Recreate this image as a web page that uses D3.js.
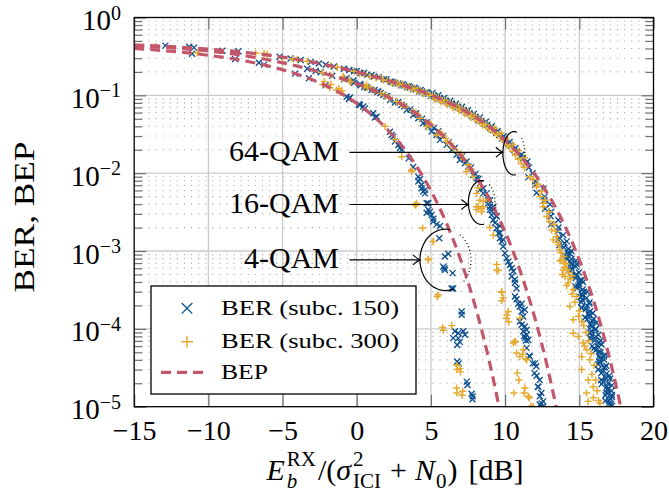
<!DOCTYPE html>
<html>
<head>
<meta charset="utf-8" />
<title>BER vs SINR</title>
<script src="https://d3js.org/d3.v7.min.js"></script>
<style>
  body { margin: 0; background: #fff; }
  svg { display: block; font-family: "Liberation Serif", serif; }
</style>
</head>
<body>
<svg id="chart" width="669" height="497"></svg>
<script>
// ---- data ----
const xTicks = [-15, -10, -5, 0, 5, 10, 15, 20];
const yMajor = [1, 1e-1, 1e-2, 1e-3, 1e-4, 1e-5];

// BEP curves: [dB] and bit error probability
const bepDb4 = [-15,-12,-10,-8,-6,-4,-2,0,1,2,3,4,5,6,6.5,7,7.5,8,8.5,9,9.3,9.6,10];
const bep4 = [0.401,0.361,0.327,0.287,0.239,0.186,0.131,0.0786,0.0563,0.0375,0.0229,0.0125,5.95e-3,2.39e-3,1.40e-3,7.73e-4,3.98e-4,1.91e-4,8.4e-5,3.36e-5,1.85e-5,9.7e-6,3.9e-6];
const bepDb16 = [-15,-12,-10,-8,-6,-4,-2,-1,0,1,2,3,4,5,6,7,8,8.5,9,9.5,10,10.5,11,11.5,12,12.5,13,13.5,14];
const bep16 = [0.433,0.401,0.371,0.333,0.287,0.237,0.187,0.164,0.141,0.119,0.0978,0.0774,0.0587,0.0419,0.0279,0.0170,9.25e-3,6.5e-3,4.39e-3,2.84e-3,1.76e-3,1.03e-3,5.64e-4,2.9e-4,1.39e-4,6.1e-5,2.42e-5,8.7e-6,2.8e-6];
const bepDb64 = [-15,-10,-8,-6,-4,-2,-1,0,1,2,3,4,5,6,7,8,9,10,10.5,11,11.5,12,12.5,13,13.5,14,14.5,15,15.5,16,16.5,17,17.25,17.5,17.75,18];
const bep64 = [0.444,0.393,0.364,0.329,0.289,0.245,0.222,0.200,0.178,0.157,0.137,0.1185,0.101,0.0838,0.0676,0.0523,0.0385,0.0265,0.0214,0.0169,0.0130,9.72e-3,7.06e-3,4.95e-3,3.34e-3,2.15e-3,1.33e-3,7.7e-4,4.24e-4,2.18e-4,1.03e-4,4.5e-5,2.86e-5,1.79e-5,1.08e-5,6.4e-6];

// measured BER, subcarrier 150: [dB, BER]
const qam4Sub150 = [[-11.1,0.343],[-8.2,0.292],[-6.6,0.262],[-6.25,0.248],[-4.16,0.19],[-3.22,0.166],[-2.1,0.135],[-0.68,0.096],[-0.46,0.094],[-0.53,0.09],[0.15,0.077],[0.22,0.075],[0.44,0.072],[0.55,0.068],[1.11,0.059],[1.23,0.052],[1.34,0.053],[2.24,0.034],[2.35,0.031],[2.46,0.0295],[2.57,0.0255],[2.8,0.023],[2.91,0.021],[3.03,0.020],[3.5,0.0155],[3.8,0.012],[4.15,0.009],[4.26,0.0084],[4.15,0.0078],[4.37,0.0071],[4.37,0.0064],[4.48,0.0058],[4.6,0.0061],[4.6,0.0055],[4.71,0.0041],[4.82,0.0041],[4.93,0.0032],[4.71,0.0031],[4.82,0.0034],[5.04,0.0029],[5.16,0.0026],[5.16,0.0024],[5.38,0.0022],[5.61,0.0021],[5.56,0.00146],[6.17,9.2e-4],[5.94,8.5e-4],[5.9,6.0e-4],[5.94,5.7e-4],[6.46,5.2e-4],[5.83,6.3e-4],[6.5,3.3e-4],[6.39,3.3e-4],[7.07,1.67e-4],[7.07,1.52e-4],[6.62,9.3e-5],[6.84,8.8e-5],[7.18,9.3e-5],[7.29,8.4e-5],[6.5,7.6e-5],[6.84,7.6e-5],[6.77,6.2e-5],[6.95,6.8e-5],[6.87,3.6e-5],[6.77,3.8e-5],[7.41,2.1e-5],[7.46,1.9e-5],[7.74,1.47e-5],[7.81,1.36e-5],[7.8,1.25e-5]];
const qam16Sub150 = [[-3.34,0.22],[-2.77,0.206],[-2.43,0.198],[-1.65,0.179],[-0.86,0.161],[-0.19,0.145],[0.26,0.135],[0.71,0.125],[1.38,0.111],[2.06,0.097],[-0.68,0.166],[-0.23,0.155],[0.22,0.14],[0.66,0.129],[1.0,0.117],[1.45,0.112],[1.79,0.101],[2.24,0.0873],[2.57,0.0807],[3.02,0.0753],[3.36,0.065],[3.81,0.056],[4.15,0.0508],[4.48,0.0438],[4.82,0.0397],[5.04,0.0342],[5.38,0.031],[5.61,0.0268],[6.06,0.0231],[6.39,0.0199],[6.73,0.0172],[6.95,0.0148],[7.29,0.0134],[7.52,0.0122],[7.85,0.0095],[8.08,0.0086],[8.3,0.0074],[8.53,0.0064],[8.75,0.0055],[8.98,0.0045],[9.2,0.0037],[9.42,0.0028],
  [0.5,0.128],[1.2,0.117],[1.6,0.107],[2.0,0.098],[2.8,0.082],[3.2,0.072],[3.6,0.066],[4.0,0.059],[4.4,0.050],[4.7,0.045],[5.2,0.038],[5.5,0.0345],[5.8,0.030],[6.2,0.025],[6.6,0.021],[7.1,0.0166],[7.4,0.0141],[7.7,0.0118],[8.0,0.0098],[8.2,0.0085],
  [8.3,0.0061],[8.53,0.0055],[8.86,0.0045],[8.98,0.0037],[9.2,0.0034],[9.43,0.0028],[9.65,0.0021],[9.65,0.0017],[9.87,0.0014],[8.86,0.0041],[8.98,0.0034],[9.09,0.0029],[9.2,0.0025],[9.31,0.0023],[9.42,0.00196],[9.54,0.00169],[9.65,0.00146],[9.76,0.00132],[9.87,0.00114],[9.99,9.4e-4],[10.1,8.1e-4],[10.21,7.3e-4],[10.32,6.6e-4],[10.44,6.0e-4],[10.55,5.5e-4],[10.44,4.7e-4],[10.66,4.3e-4],[10.66,3.9e-4],[10.77,3.3e-4],[10.66,2.6e-4],[10.77,2.4e-4],[10.88,2.1e-4],[10.99,1.94e-4],[11.11,1.67e-4],[11.22,1.44e-4],[10.99,1.24e-4],[11.11,1.13e-4],[11.33,1.07e-4],[11.22,9.3e-5],[11.45,8.4e-5],[11.33,7.6e-5],[11.56,7.2e-5],[11.45,5.7e-5],[11.11,2.1e-4],[11.33,1.76e-4],[11.45,9.7e-5],[11.28,8.1e-5],[11.4,7.1e-5],[11.63,4.5e-5],[11.67,4.4e-5],[11.86,3.6e-5],[12.01,3.6e-5],[12.1,3.3e-5],[11.98,2.7e-5],[12.12,2.5e-5],[12.33,2.2e-5],[12.21,1.8e-5],[12.23,1.8e-5],[12.44,1.5e-5],[12.34,1.36e-5],[12.56,1.17e-5],[12.46,1.1e-5],[12.33,1.07e-5],[12.56,1.0e-5]];
const qam64Sub150 = [[-12.9,0.435],[-11.3,0.42],[-10.97,0.41],[-9.06,0.375],[-7.98,0.368],[-5.2,0.313],[-4.46,0.298],[-3.78,0.284],[-3.1,0.269],[-2.55,0.257],[-2.1,0.247],[-1.54,0.235],[-0.86,0.219],[-0.5,0.211],[-0.19,0.204],[0.26,0.194],[0.71,0.184],[1.16,0.175],[1.83,0.161],[2.28,0.151],
  [0.0,0.206],[0.5,0.195],[1.0,0.183],[1.5,0.172],[2.0,0.161],[3.1,0.139],[3.5,0.131],[3.9,0.125],[4.3,0.117],[4.7,0.110],
  [2.4,0.149],[2.6,0.143],[2.8,0.142],[3.0,0.135],[3.2,0.134],[3.4,0.128],[3.6,0.126],[3.8,0.121],[4.0,0.120],[4.2,0.114],[4.4,0.112],[4.6,0.106],[4.8,0.105],[5.0,0.099],[5.2,0.098],[5.4,0.092],[5.6,0.091],[5.8,0.086],[6.0,0.085],[6.2,0.079],[6.4,0.078],[6.6,0.073],[6.8,0.071],[7.0,0.067],[7.2,0.065],[7.4,0.060],[7.6,0.059],[7.8,0.054],[8.0,0.053],[8.2,0.048],[8.4,0.047],[8.6,0.043],[8.8,0.042],[9.0,0.038],[9.2,0.036],[9.4,0.033],[9.6,0.031],[9.8,0.028],[10.0,0.027],[10.2,0.024],[10.4,0.0226],[10.6,0.020],[10.8,0.0188],[11.0,0.0165],[11.2,0.0155],[11.4,0.0134],[11.6,0.0118],
  [5.1,0.107],[5.5,0.100],[5.9,0.0925],[6.3,0.085],[6.7,0.078],[7.1,0.0714],[7.5,0.0645],[7.9,0.0582],[8.3,0.0518],[8.7,0.0458],[9.1,0.0402],[9.5,0.0346],[9.9,0.0298],[10.3,0.0252],[10.7,0.0211],[11.1,0.0174],[11.5,0.0141],
  [11.85,0.0100],[11.57,0.0089],[12.03,0.0079],[12.03,0.0071],[12.58,0.0063],[12.12,0.0056],[12.66,0.0050],[12.64,0.0045],[13.02,0.0040],[12.69,0.0035],[13.11,0.0032],[13.07,0.0028],[13.58,0.0025],[13.09,0.0022],[13.6,0.0020],[13.55,0.0018],[13.92,0.0016],[13.59,0.0014],[14.0,0.00126],[13.96,0.00112],[14.46,0.0010],[13.97,8.9e-4],[14.47,7.9e-4],[14.42,7.1e-4],[14.77,6.3e-4],[14.42,5.6e-4],[14.81,5.0e-4],[14.76,4.5e-4],[15.25,4.0e-4],[14.74,3.5e-4],[15.22,3.2e-4],[15.16,2.8e-4],[15.49,2.5e-4],[15.13,2.2e-4],[15.51,2.0e-4],[15.44,1.8e-4],[15.91,1.6e-4],[15.39,1.4e-4],[15.87,1.26e-4],[15.8,1.12e-4],[16.12,1.0e-4],[15.74,8.9e-5],[16.11,7.9e-5],[16.03,7.1e-5],[16.5,6.3e-5],[15.97,5.6e-5],[16.43,5.0e-5],[16.35,4.5e-5],[16.67,4.0e-5],[16.28,3.5e-5],[16.64,3.2e-5],[16.56,2.8e-5],[17.02,2.5e-5],[16.48,2.2e-5],[16.94,2.0e-5],[16.85,1.8e-5],[17.16,1.6e-5],[16.77,1.4e-5],[17.12,1.26e-5],[17.02,1.12e-5],[17.12,1.0e-5],
  [13.63,1.5e-3],[14.15,1.33e-3],[13.65,1.19e-3],[14.26,1.06e-3],[14.22,9.4e-4],[14.12,8.4e-4],[14.77,7.5e-4],[14.47,6.7e-4],[14.47,6.0e-4],[14.97,5.3e-4],[14.46,4.7e-4],[15.05,4.2e-4],[15.0,3.8e-4],[14.88,3.35e-4],[15.52,3.0e-4],[15.2,2.66e-4],[15.19,2.37e-4],[15.67,2.11e-4],[15.15,1.88e-4],[15.73,1.68e-4],[15.65,1.5e-4],[15.53,1.33e-4],[16.16,1.19e-4],[15.84,1.06e-4],[15.81,9.4e-5],[16.28,8.4e-5],[15.75,7.5e-5],[16.32,6.7e-5],[16.24,6.0e-5],[16.1,5.3e-5],[16.72,4.7e-5],[16.39,4.2e-5],[16.35,3.8e-5],[16.81,3.35e-5],[16.28,3.0e-5],[16.84,2.66e-5],[16.75,2.37e-5],[16.61,2.11e-5],[17.2,1.88e-5],[16.88,1.68e-5],[16.84,1.5e-5],[17.2,1.33e-5],[16.75,1.19e-5],[17.1,1.06e-5],
  [14.38,9.3e-4],[14.17,7.9e-4],[14.81,6.8e-4],[14.3,5.75e-4],[14.78,4.9e-4],[15.16,4.2e-4],[14.94,3.55e-4],[15.31,3.0e-4],[15.08,2.57e-4],[15.69,2.19e-4],[15.16,1.86e-4],[15.61,1.58e-4],[15.97,1.35e-4],[15.73,1.15e-4],[16.08,9.8e-5],[15.83,8.3e-5],[16.43,7.1e-5],[15.88,6.0e-5],[16.32,5.1e-5],[16.66,4.4e-5],[16.4,3.7e-5],[16.74,3.2e-5],[16.48,2.7e-5],[17.07,2.3e-5],[16.5,1.95e-5],[16.94,1.66e-5],[17.2,1.41e-5],[16.99,1.2e-5],[17.2,1.02e-5]];

// measured BER, subcarrier 300: [dB, BER]
const qam4Sub300 = [[-10.75,0.35],[-2.29,0.138],[-2.2,0.15],[-1.83,0.125],[-1.75,0.138],[-1.36,0.117],[-1.2,0.122],[-1.08,0.11],[-1.0,0.115],[1.9,0.04],[2.6,0.027],[3.03,0.0163],[3.7,0.011],[3.7,0.0105],[3.92,0.0039],[3.99,0.0039],[4.03,0.0041],[4.44,0.00197],[5.15,0.00132],[5.16,0.00133],[4.82,7.9e-4],[4.82,7.7e-4],[5.42,2.6e-4],[5.49,2.74e-4],[5.79,1.04e-4],[5.84,9.6e-5],[6.4,1.1e-4],[6.73,3.4e-5],[6.95,3.1e-5],[6.75,3.0e-5],[6.99,2.8e-5],[6.73,1.74e-5],[7.14,1.58e-5],[6.75,1.5e-5],[7.1,1.4e-5]];
const qam16Sub300 = [[-5.0,0.268],[-2.32,0.196],[-1.76,0.181],[-0.98,0.163],[-0.91,0.174],[-0.5,0.152],[-0.41,0.15],[0.5,0.13],[0.66,0.136],[0.71,0.126],[1.2,0.115],[1.61,0.106],[1.9,0.1],[2.69,0.083],[3.3,0.071],[3.8,0.062],[4.26,0.0508],[4.71,0.0397],[5.0,0.042],[5.38,0.031],[5.7,0.0316],[6.06,0.0255],[6.3,0.024],[6.5,0.0209],[6.8,0.0186],[7.2,0.0151],[7.4,0.0105],[7.7,0.0112],[7.85,0.0091],
  [1.0,0.12],[2.2,0.093],[3.0,0.0775],[4.0,0.0595],[4.9,0.043],[5.6,0.0335],[6.0,0.028],[7.0,0.0175],[7.5,0.0128],
  [8.08,0.0055],[8.19,0.0065],[8.3,0.0045],[8.53,0.0037],[8.08,0.0037],[8.41,0.0035],[8.53,0.0044],[8.86,0.0046],[8.19,0.0037],[8.08,0.0034],[8.41,0.0032],[8.97,0.002],[9.2,0.0016],[9.43,6.7e-4],[9.43,5.7e-4],[9.54,5.6e-4],[9.76,3.0e-4],[9.78,2.95e-4],[9.87,2.5e-4],[9.78,2.3e-4],[10.21,1.67e-4],[10.12,1.51e-4],[10.1,1.37e-4],[10.24,1.23e-4],[11.0,1.37e-4],[10.66,6.9e-5],[10.7,6.8e-5],[10.55,6.6e-5],[10.77,4.9e-5],[11.17,4.7e-5],[10.99,4.4e-5],[11.4,4.1e-5],[11.22,5.4e-5],[11.45,4.0e-5],[10.82,2.7e-5],[10.93,2.2e-5],[11.33,1.74e-5],[11.28,1.5e-5],[10.59,1.5e-5],[11.56,1.36e-5],[11.63,1.3e-5],[11.75,1.02e-5],[11.9,1.0e-5]];
const qam64Sub300 = [[-13.55,0.422],[-6.81,0.35],[-6.25,0.345],[-6.03,0.338],[-4.34,0.296],[-4.01,0.289],[-3.33,0.274],[-1.76,0.24],[-1.31,0.229],[-0.19,0.204],[0.49,0.189],[1.61,0.169],[2.06,0.156],
  [0.2,0.189],[0.9,0.175],[1.3,0.166],[1.8,0.156],[2.3,0.147],[3.3,0.128],[3.7,0.120],[4.1,0.113],[4.5,0.106],
  [2.5,0.143],[2.7,0.146],[2.9,0.136],[3.1,0.139],[3.3,0.128],[3.5,0.130],[3.7,0.121],[3.9,0.123],[4.1,0.114],[4.3,0.116],[4.5,0.107],[4.7,0.108],[4.9,0.100],[5.1,0.101],[5.3,0.093],[5.5,0.094],[5.7,0.086],[5.9,0.087],[6.1,0.080],[6.3,0.080],[6.5,0.073],[6.7,0.074],[6.9,0.0672],[7.1,0.0676],[7.3,0.061],[7.5,0.0611],[7.7,0.0551],[7.9,0.0552],[8.1,0.0489],[8.3,0.049],[8.5,0.0435],[8.7,0.0423],[8.9,0.038],[9.1,0.0371],[9.3,0.0328],[9.5,0.0312],[9.7,0.0281],[9.9,0.0262],[10.1,0.0231],[10.3,0.0218],[10.5,0.0191],[10.7,0.017],[10.9,0.0151],[11.1,0.0133],[11.3,0.0118],
  [5.3,0.0879],[5.7,0.0817],[6.1,0.0757],[6.5,0.0693],[6.9,0.0637],[7.3,0.0578],[7.7,0.0521],[8.1,0.0468],[8.5,0.0414],[8.9,0.0366],[9.3,0.0378],[9.7,0.0325],[10.1,0.0278],[10.5,0.0234],[10.9,0.0194],[11.3,0.0158],
  [11.67,0.009],[12.12,0.0067],[12.35,0.005],[12.57,0.0037],[12.8,0.00277],[13.13,0.00187],[13.47,0.00153],[13.24,0.00139],[13.69,0.00104],[13.81,7.7e-4],[13.92,5.7e-4],[14.03,4.7e-4],[14.25,3.9e-4],[14.59,3.2e-4],[14.37,1.94e-4],[14.59,1.31e-4],[15.16,1.24e-4],[14.59,8.8e-5],[14.93,8.0e-5],[15.26,6.6e-5],[15.49,5.4e-5],[15.16,4.4e-5],[15.71,4.0e-5],[15.16,3.0e-5],[15.6,2.2e-5],[15.94,1.8e-5],[15.49,1.5e-5],[15.6,1.17e-5],[16.39,1.11e-5],
  [11.9,0.0083],[12.2,0.0072],[12.45,0.0058],[12.7,0.0045],[12.6,0.0041],[12.95,0.0032],[13.0,0.0024],[13.3,0.0022],[13.4,0.0018],[13.55,0.0013],[13.6,0.0012],[13.75,9.5e-4],[13.95,8.5e-4],[14.1,6.8e-4],[14.0,6.2e-4],[14.3,5.3e-4],[13.85,5.0e-4],[14.4,4.4e-4],[14.15,3.6e-4],[14.5,2.8e-4],[14.8,2.6e-4],[14.7,2.2e-4],[15.0,1.7e-4],[14.95,1.45e-4],[15.3,1.1e-4],[15.45,9.0e-5],[15.6,7.0e-5],[15.35,6.0e-5],[15.8,4.8e-5],[16.0,3.4e-5],[15.85,2.6e-5],[16.1,2.2e-5],[16.2,1.6e-5],[15.95,1.3e-5],[16.3,1.2e-5],[13.7,7.5e-4],[14.0,7.0e-4],[14.2,5.8e-4],[14.5,4.8e-4]];

// annotation anchors: label, ellipse centre dB, centre BER
const annoLabels = ["64-QAM", "16-QAM", "4-QAM"];
const annoDb = [10.59, 8.42, 5.98];
const annoBer = [0.018, 0.0042, 7.7e-4];

// ---- layout ----
const m = { l: 134.2, r: 653.5, t: 17.5, b: 406.7 };
const blue = "#0b4f8f", orange = "#e6a92e", red = "#c2566b";
const FONT = "Liberation Serif";

const svg = d3.select("#chart");
const x = d3.scaleLinear().domain([-15, 20]).range([m.l, m.r]);
const y = d3.scaleLog().domain([1e-5, 1]).range([m.b, m.t]);

const yMinor = [];
for (let k = -5; k < 0; k++) for (let j = 2; j <= 9; j++) yMinor.push(j * Math.pow(10, k));

svg.append("defs").append("clipPath").attr("id", "clip")
  .append("rect").attr("x", m.l).attr("y", m.t).attr("width", m.r - m.l).attr("height", m.b - m.t);

// grid
const grid = svg.append("g");
grid.selectAll(".minor").data(yMinor).join("line")
  .attr("x1", m.l).attr("x2", m.r).attr("y1", d => y(d)).attr("y2", d => y(d))
  .attr("stroke", "#a8a8a8").attr("stroke-width", 1.1).attr("stroke-dasharray", "1.1,6");
grid.selectAll(".vmaj").data(xTicks.slice(1, -1)).join("line")
  .attr("x1", d => x(d)).attr("x2", d => x(d)).attr("y1", m.t).attr("y2", m.b)
  .attr("stroke", "#cbcbcb").attr("stroke-width", 1.3);
grid.selectAll(".hmaj").data(yMajor.slice(1, -1)).join("line")
  .attr("x1", m.l).attr("x2", m.r).attr("y1", d => y(d)).attr("y2", d => y(d))
  .attr("stroke", "#cbcbcb").attr("stroke-width", 1.3);

// axes (ticks inward)
function styleAxis(g) {
  g.select(".domain").remove();
  g.selectAll("line").attr("stroke", "#707070").attr("stroke-width", 1.2);
}
svg.append("g").attr("transform", `translate(0,${m.t})`)
  .call(d3.axisTop(x).tickValues(xTicks).tickSize(-12).tickFormat("")).call(styleAxis);
const gx = svg.append("g").attr("transform", `translate(0,${m.b})`)
  .call(d3.axisBottom(x).tickValues(xTicks).tickSize(-12)
    .tickFormat(d => d < 0 ? "\u2212" + Math.abs(d) : String(d)))
  .call(styleAxis);
gx.selectAll("text").attr("y", 33).attr("dy", null)
  .attr("font-family", FONT).attr("font-size", 28).attr("fill", "#000");
[[d3.axisLeft, m.l], [d3.axisRight, m.r]].forEach(([ax, px]) => {
  svg.append("g").attr("transform", `translate(${px},0)`)
    .call(ax(y).tickValues(yMajor).tickSize(-12).tickFormat("")).call(styleAxis);
  svg.append("g").attr("transform", `translate(${px},0)`)
    .call(ax(y).tickValues(yMinor).tickSize(-8).tickFormat("")).call(styleAxis);
});

// y tick labels 10^k
svg.append("g").selectAll("text").data(yMajor).join("text")
  .attr("x", 121).attr("y", d => y(d) + 12.5).attr("text-anchor", "end")
  .attr("font-family", FONT)
  .each(function (d) {
    const e = Math.round(Math.log10(d));
    const t = d3.select(this);
    t.append("tspan").attr("font-size", 29).text("10");
    t.append("tspan").attr("font-size", 20).attr("dy", -10.5).text(e === 0 ? "0" : "\u2212" + (-e));
  });

// data
const plot = svg.append("g").attr("clip-path", "url(#clip)");
const xMark = "M-3,-3L3,3M-3,3L3,-3";
const plusMark = "M-3.6,0H3.6M0,-3.6V3.6";

const blueAll = qam4Sub150.concat(qam16Sub150, qam64Sub150);
const orangeAll = qam4Sub300.concat(qam16Sub300, qam64Sub300);

plot.append("g").selectAll("path").data(blueAll).join("path")
  .attr("d", xMark).attr("transform", d => `translate(${x(d[0])},${y(d[1])})`)
  .attr("stroke", blue).attr("stroke-width", 1.35).attr("fill", "none");
plot.append("g").selectAll("path").data(orangeAll).join("path")
  .attr("d", plusMark).attr("transform", d => `translate(${x(d[0])},${y(d[1])})`)
  .attr("stroke", orange).attr("stroke-width", 1.45).attr("fill", "none");

const line = d3.line().x(d => x(d[0])).y(d => y(d[1])).curve(d3.curveMonotoneX);
[[bepDb4, bep4], [bepDb16, bep16], [bepDb64, bep64]].forEach(([xs, vs]) => {
  plot.append("path").datum(xs.map((v, i) => [v, vs[i]]))
    .attr("d", line).attr("fill", "none").attr("stroke", red)
    .attr("stroke-width", 3.2).attr("stroke-dasharray", "10,6");
});

// frame
svg.append("rect").attr("x", m.l).attr("y", m.t).attr("width", m.r - m.l).attr("height", m.b - m.t)
  .attr("fill", "none").attr("stroke", "#000").attr("stroke-width", 1.3);

// annotations: label, arrow, ring around the scatter
const ellR = [[11, 21.7], [13.3, 22], [25.5, 30.7]];
const ellArc = [[-75, 80, -45, 15], [-80, 80, -55, 25], [-80, 70, -55, 50]];
const arrowDy = [-1, 2, 0];
function arcPts(cx, cy, rx, ry, a0, a1) {
  return d3.range(0, 41).map(i => {
    const a = (a0 + (a1 - a0) * i / 40) * Math.PI / 180;
    return [cx + rx * Math.cos(a), cy + ry * Math.sin(a)];
  });
}
const ann = svg.append("g");
annoLabels.forEach((lab, i) => {
  const cx = x(annoDb[i]), cy = y(annoBer[i]);
  const [rx, ry] = ellR[i];
  const [s0, s1, d0, d1] = ellArc[i];
  const ay = cy + arrowDy[i];
  const ex = cx - rx * Math.sqrt(Math.max(0, 1 - Math.pow((ay - cy) / ry, 2)));
  ann.append("path").attr("d", d3.line()(arcPts(cx, cy, rx, ry, s0, s1 - 360).reverse()))
    .attr("fill", "none").attr("stroke", "#000").attr("stroke-width", 1.2);
  ann.append("path").attr("d", d3.line()(arcPts(cx, cy, rx, ry, d0, d1)))
    .attr("fill", "none").attr("stroke", "#000").attr("stroke-width", 1.2)
    .attr("stroke-dasharray", "1,2.6");
  ann.append("line").attr("x1", 349.5).attr("x2", ex - 1).attr("y1", ay).attr("y2", ay)
    .attr("stroke", "#000").attr("stroke-width", 1.2);
  ann.append("path")
    .attr("d", `M${ex - 7},${ay - 5}Q${ex - 2.5},${ay - 1} ${ex},${ay}Q${ex - 2.5},${ay + 1} ${ex - 7},${ay + 5}`)
    .attr("fill", "none").attr("stroke", "#000").attr("stroke-width", 1.2);
  ann.append("text").attr("x", 339).attr("y", ay + 8.5).attr("text-anchor", "end")
    .attr("font-family", FONT).attr("font-size", 30).text(lab);
});

// legend
const lg = svg.append("g");
lg.append("rect").attr("x", 151).attr("y", 286).attr("width", 265).attr("height", 108)
  .attr("fill", "#fff").attr("stroke", "#000").attr("stroke-width", 1.3);
lg.append("path").attr("d", "M-5.3,-5.3L5.3,5.3M-5.3,5.3L5.3,-5.3")
  .attr("transform", "translate(187,308.3)").attr("stroke", blue).attr("stroke-width", 1.3);
lg.append("path").attr("d", "M-6,0H6M0,-6V6")
  .attr("transform", "translate(187,341.7)").attr("stroke", orange).attr("stroke-width", 1.4);
lg.append("line").attr("x1", 161).attr("x2", 207).attr("y1", 372.3).attr("y2", 372.3)
  .attr("stroke", red).attr("stroke-width", 3.2).attr("stroke-dasharray", "10,6");
const legTexts = [["BER (subc. 150)", 315, 178], ["BER (subc. 300)", 347.5, 178], ["BEP", 378.5, 47]];
legTexts.forEach(([t, by, w]) => {
  lg.append("text").attr("x", 221).attr("y", by).attr("font-family", FONT).attr("font-size", 21)
    .attr("textLength", w).attr("lengthAdjust", "spacingAndGlyphs").text(t);
});

// y label
svg.append("text").attr("transform", "translate(33.5,217) rotate(-90)")
  .attr("text-anchor", "middle").attr("font-family", FONT).attr("font-size", 30)
  .attr("textLength", 151).attr("lengthAdjust", "spacingAndGlyphs").text("BER, BEP");

// x label: E_b^RX/(sigma^2_ICI + N_0) [dB]
const segs = [
  { t: "E", it: true, fs: 30 },
  { stack: [{ t: "RX", fs: 21, dy: -14 }, { t: "b", it: true, fs: 21, dy: 8 }], gap: 2 },
  { t: "/(", fs: 30, pl: 1 },
  { t: "\u03c3", it: true, fs: 30 },
  { stack: [{ t: "2", fs: 21, dy: -14 }, { t: "ICI", fs: 21, dy: 8 }], gap: 2 },
  { t: "+", fs: 30, pl: 8, pr: 8 },
  { t: "N", it: true, fs: 30 },
  { t: "0", fs: 21, dy: 8, pl: 1 },
  { t: ")", fs: 30, pl: 1 },
  { t: "[dB]", fs: 30, pl: 11 }
];
const xl = svg.append("g");
const xlBase = 480;
let cursor = 0;
function put(s, px) {
  const el = xl.append("text").attr("x", px).attr("y", xlBase + (s.dy || 0))
    .attr("font-family", FONT).attr("font-size", s.fs)
    .attr("font-style", s.it ? "italic" : null).text(s.t);
  return el.node().getComputedTextLength();
}
segs.forEach(s => {
  if (s.stack) {
    cursor += s.gap;
    const w = Math.max(...s.stack.map(p => put(p, cursor)));
    cursor += w + 1;
  } else {
    cursor += (s.pl || 0);
    cursor += put(s, cursor) + (s.pr || 0);
  }
});
xl.attr("transform", `translate(${395 - cursor / 2},0)`);
</script>
</body>
</html>
